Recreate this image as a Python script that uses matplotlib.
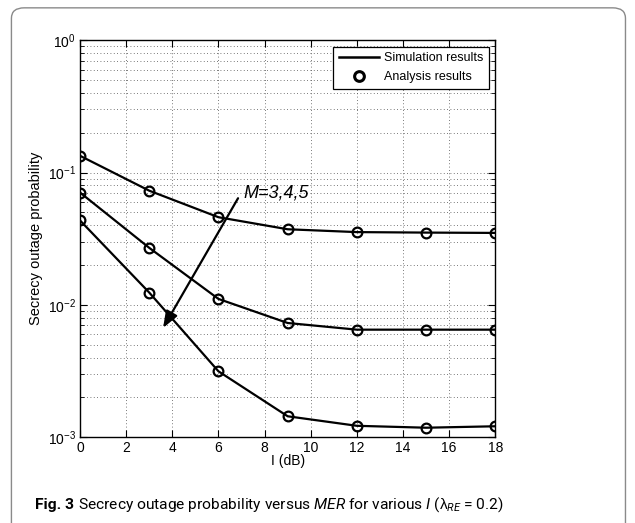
import numpy as np
import matplotlib
matplotlib.use("Agg")
import matplotlib.pyplot as plt
from matplotlib.patches import FancyBboxPatch

# values
I_dB = [0, 3, 6, 9, 12, 15, 18]
pout_M3 = [0.134, 0.073, 0.046, 0.0373, 0.0355, 0.0352, 0.0350]
pout_M4 = [0.0707, 0.027, 0.0111, 0.0073, 0.0065, 0.0065, 0.0065]
pout_M5 = [0.0435, 0.0124, 0.00315, 0.00144, 0.00122, 0.00118, 0.00121]
curves = [pout_M3, pout_M4, pout_M5]
xticks = list(range(0, 19, 2))

plt.rcParams['font.family'] = ['Liberation Sans', 'DejaVu Sans']
plt.rcParams['mathtext.fontset'] = 'custom'
plt.rcParams['mathtext.rm'] = 'Liberation Sans'
plt.rcParams['mathtext.it'] = 'Roboto:italic'
plt.rcParams['mathtext.bf'] = 'Liberation Sans:bold'

fig = plt.figure(figsize=(6.35, 5.23), dpi=100)
ax = fig.add_axes([0.126, 0.164, 0.654, 0.759])

# rounded frame around figure + caption
frame = FancyBboxPatch((0.018, -0.05), 0.967, 1.035,
                       boxstyle="round,pad=0,rounding_size=0.02",
                       transform=fig.transFigure, fill=False,
                       edgecolor='#8a8a8a', linewidth=1.0, clip_on=False)
fig.patches.append(frame)

for y in curves:
    ax.plot(I_dB, y, color='black', lw=1.6, marker='o', ms=7,
            mfc='none', mec='black', mew=1.6)

ax.set_yscale('log')
ax.set_xlim(0, 18)
ax.set_ylim(1e-3, 1)
ax.set_xticks(xticks)
ax.grid(True, which='major', ls=(0, (1, 3)), color='0.3', lw=0.6)
ax.grid(True, which='minor', axis='y', ls=(0, (1, 3)), color='0.3', lw=0.6)
ax.tick_params(which='both', direction='in', top=True, right=True, labelsize=10)
ax.tick_params(which='major', length=5, pad=3)
ax.tick_params(which='minor', length=3)
for s in ax.spines.values():
    s.set_linewidth(1.0)

ax.set_xlabel('I (dB)', fontsize=10, labelpad=-1)
ax.set_ylabel('Secrecy outage probability', fontsize=10.5)
ax.yaxis.set_label_coords(-0.088, 0.5)

# arrow and M label
ax.annotate('', xy=(3.6, 0.0067), xytext=(6.85, 0.064),
            arrowprops=dict(arrowstyle='-|>,head_length=1.0,head_width=0.38',
                            color='black', lw=1.6, shrinkA=0, shrinkB=0))
ax.text(7.1, 0.0695, 'M=3,4,5', fontsize=13, style='italic', va='center', ha='left')

# legend
h1, = ax.plot([], [], color='black', lw=1.8)
h2, = ax.plot([], [], ls='none', marker='o', ms=7, mfc='none', mec='black', mew=2.2)
leg = ax.legend([h1, h2], ['Simulation results', 'Analysis results'],
                loc='upper right', fontsize=9, fancybox=False, framealpha=1,
                edgecolor='black', handlelength=3.2, borderpad=0.45,
                labelspacing=0.55, borderaxespad=0.5, handletextpad=0.4)
leg.get_frame().set_linewidth(0.9)

# caption
cap_y = 1 - 505 / 523
cap_x0 = 35
cap_w = 468
cap_fs = 12.5
cap_fam = ['Roboto', 'Liberation Sans']
t1 = fig.text(0, cap_y, 'Fig. 3', fontsize=cap_fs, fontweight='bold',
              va='center', ha='left', family=cap_fam)
t2 = fig.text(0, cap_y,
              r'Secrecy outage probability versus $\mathit{MER}$ for various $\mathit{I}$ ($\mathrm{\lambda}_{\mathit{RE}}$ = 0.2)',
              fontsize=cap_fs, va='center', ha='left', family=cap_fam)
fig.canvas.draw()
r = fig.canvas.get_renderer()
w_tot = t1.get_window_extent(r).width + 4 + t2.get_window_extent(r).width
fs = cap_fs * cap_w / w_tot
t1.set_fontsize(fs)
t2.set_fontsize(fs)
t1.set_x(cap_x0 / fig.bbox.width)
fig.canvas.draw()
bb = t1.get_window_extent(r)
t2.set_x((bb.x1 + 4) / fig.bbox.width)

fig.savefig('out.png', dpi=100)
